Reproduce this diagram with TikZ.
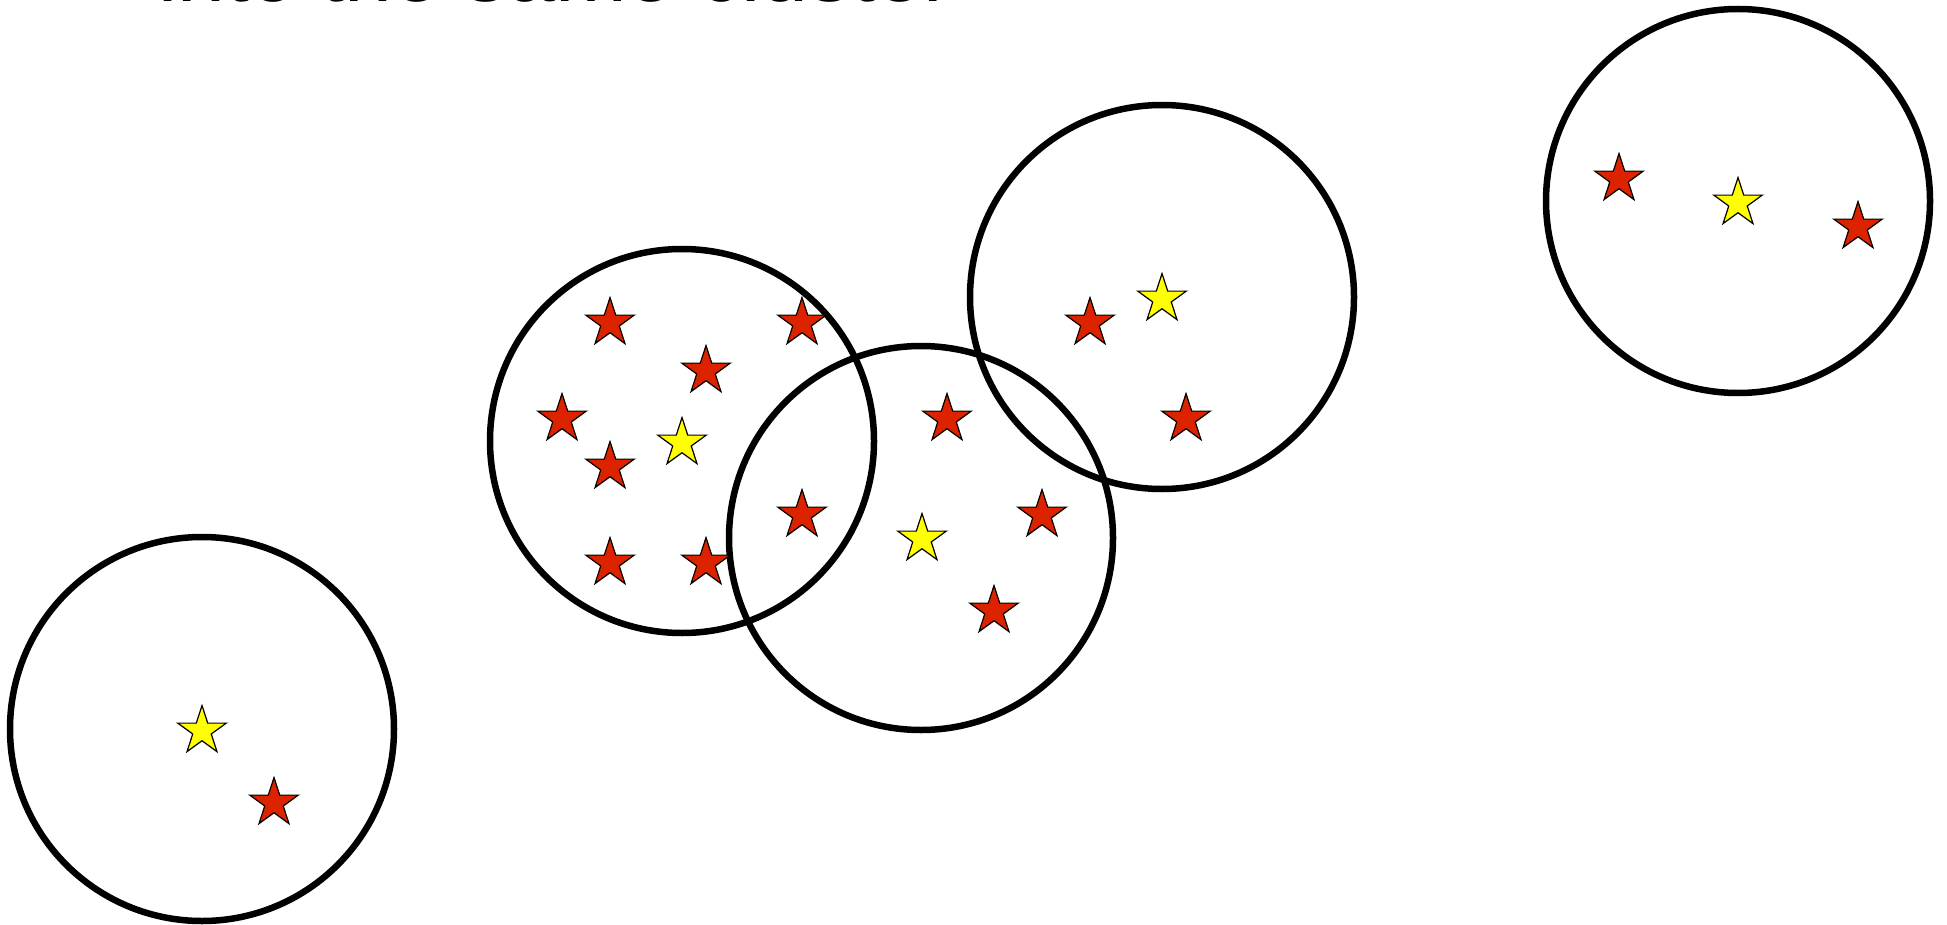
\documentclass[tikz,border=0pt]{standalone}
\usepackage{fontspec}
\setmainfont{Liberation Sans}
\usetikzlibrary{shapes.geometric}
\definecolor{starred}{RGB}{221,34,0}
\definecolor{staryellow}{RGB}{255,255,0}
\begin{document}
\begin{tikzpicture}[x=0.5pt,y=-0.5pt,
  cluster/.style={circle,draw=black,line width=3.25pt,minimum size=192pt,inner sep=0pt},
  pt/.style={star,star points=5,star point ratio=2.618,draw=black,line width=0.6pt,minimum size=25.5pt,inner sep=0pt},
  redpt/.style={pt,fill=starred},
  yellowpt/.style={pt,fill=staryellow}]
\useasboundingbox (0,0) rectangle (1947,925);
\fill[white] (0,0) rectangle (1947,925);
\node[anchor=base west,inner sep=0pt,font=\fontsize{43}{50}\selectfont] (title) at (158,2) {into the same cluster};
% clusters
\node[cluster] (c1) at (202,729) {};
\node[cluster] (c2) at (682,441) {};
\node[cluster] (c3) at (921,538) {};
\node[cluster] (c4) at (1162,297) {};
\node[cluster] (c5) at (1738,201) {};
% cluster 1
\node[yellowpt] (p1) at (202,731) {};
\node[redpt] (p2) at (274,803) {};
% cluster 2
\node[redpt] (p3) at (610,323) {};
\node[redpt] (p4) at (802,323) {};
\node[redpt] (p5) at (706,371) {};
\node[redpt] (p6) at (562,419) {};
\node[yellowpt] (p7) at (682,443) {};
\node[redpt] (p8) at (610,467) {};
\node[redpt] (p9) at (610,563) {};
\node[redpt] (p10) at (706,563) {};
\node[redpt] (p11) at (802,515) {};
% cluster 3
\node[redpt] (p12) at (947,419) {};
\node[yellowpt] (p13) at (922,539) {};
\node[redpt] (p14) at (1042,515) {};
\node[redpt] (p15) at (994,611) {};
% cluster 4
\node[redpt] (p16) at (1090,323) {};
\node[yellowpt] (p17) at (1162,299) {};
\node[redpt] (p18) at (1186,419) {};
% cluster 5
\node[redpt] (p19) at (1619,179) {};
\node[yellowpt] (p20) at (1738,203) {};
\node[redpt] (p21) at (1858,227) {};
\end{tikzpicture}
\end{document}
